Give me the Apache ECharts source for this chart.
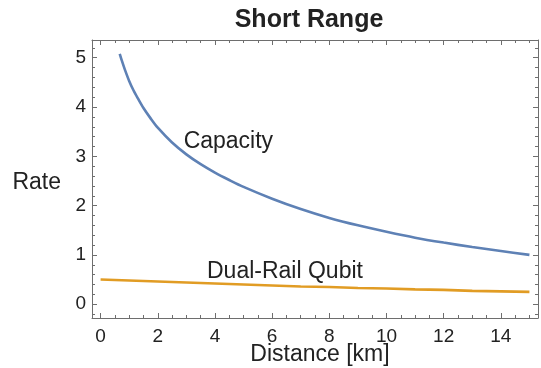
<!DOCTYPE html>
<html>
<head>
<meta charset="utf-8">
<script src="https://cdn.jsdelivr.net/npm/echarts@6/dist/echarts.min.js"></script>
<style>
html,body{margin:0;padding:0;background:#fff;}
#chart{width:541px;height:368px;}
</style>
</head>
<body>
<div id="chart"></div>
<script>
// ---- data ----
const capacityX = [0.67,0.75,0.85,1.0,1.15,1.3,1.5,1.75,2.0,2.5,3.0,3.5,4.0,4.5,5,6,7,8,9,10,11,12,13,14,15];
const capacityY = [5.08,4.93,4.76,4.53,4.34,4.18,3.98,3.77,3.58,3.28,3.04,2.84,2.67,2.52,2.38,2.14,1.93,1.75,1.60,1.47,1.35,1.25,1.16,1.08,1.00];
const dualRailX = [0,1,2,3,4,5,6,7,8,9,10,11,12,13,14,15];
const dualRailY = [0.50,0.48,0.46,0.44,0.42,0.40,0.38,0.36,0.35,0.33,0.32,0.30,0.29,0.27,0.26,0.25];

const xMajorTicks = [0,2,4,6,8,10,12,14];
const xMinorTicks = [0.5,1,1.5,2.5,3,3.5,4.5,5,5.5,6.5,7,7.5,8.5,9,9.5,10.5,11,11.5,12.5,13,13.5,14.5,15];
const yMajorTicks = [0,1,2,3,4,5];
const yMinorTicks = [-0.2,0.2,0.4,0.6,0.8,1.2,1.4,1.6,1.8,2.2,2.4,2.6,2.8,3.2,3.4,3.6,3.8,4.2,4.4,4.6,4.8,5.2];

const titleText = 'Short Range';
const xName = 'Distance [km]';
const yName = 'Rate';
const capacityLabel = {text: 'Capacity', at: [4.47, 3.30]};
const dualRailLabel = {text: 'Dual-Rail Qubit', at: [6.45, 0.67]};

// ---- styling ----
const FONT = '"Liberation Sans", Arial, sans-serif';
const frameColor = '#6e6e6e';
const textColor = '#222';
const blue = '#5e81b5';
const orange = '#e19c24';
const X_MIN = -0.3, X_MAX = 15.3, Y_MIN = -0.28, Y_MAX = 5.36;

function zip(a, b) { return a.map((v, i) => [v, b[i]]); }

function axisDef(position, min, max, ticks, len, showLine, extra) {
  return Object.assign({
    type: 'value', position: position, min: min, max: max,
    axisLine: {show: showLine, onZero: false, lineStyle: {color: frameColor, width: 1}},
    axisTick: {show: true, inside: true, length: len, customValues: ticks, lineStyle: {color: frameColor, width: 1}},
    axisLabel: {show: false},
    splitLine: {show: false}
  }, extra || {});
}

const labelStyle = {fontFamily: FONT, fontSize: 23, color: textColor};

const option = {
  backgroundColor: '#fff',
  animation: false,
  title: {
    text: titleText, left: 309, top: 8, textAlign: 'center', padding: 0,
    textStyle: {fontFamily: FONT, fontSize: 25, fontWeight: 'bold', color: textColor}
  },
  grid: {left: 92, right: 3, top: 40, bottom: 50, containLabel: false, outerBoundsMode: 'none'},
  xAxis: [
    axisDef('bottom', X_MIN, X_MAX, xMajorTicks, 5, true, {
      axisLabel: {show: true, customValues: xMajorTicks, margin: 9, fontFamily: FONT, fontSize: 19, color: textColor},
      name: xName, nameLocation: 'middle', nameGap: 25, nameMoveOverlap: false,
      nameTextStyle: {fontFamily: FONT, fontSize: 23, color: textColor, padding: [0, 0, 0, 10]}
    }),
    axisDef('bottom', X_MIN, X_MAX, xMinorTicks, 3, false),
    axisDef('top', X_MIN, X_MAX, xMajorTicks, 5, true),
    axisDef('top', X_MIN, X_MAX, xMinorTicks, 3, false)
  ],
  yAxis: [
    axisDef('left', Y_MIN, Y_MAX, yMajorTicks, 5, true, {
      axisLabel: {show: true, customValues: yMajorTicks, margin: 6, fontFamily: FONT, fontSize: 19, color: textColor},
      name: yName, nameLocation: 'middle', nameRotate: 0, nameGap: 31, nameMoveOverlap: false,
      nameTextStyle: {fontFamily: FONT, fontSize: 23, color: textColor, verticalAlign: 'top', lineHeight: 8}
    }),
    axisDef('left', Y_MIN, Y_MAX, yMinorTicks, 3, false),
    axisDef('right', Y_MIN, Y_MAX, yMajorTicks, 5, true),
    axisDef('right', Y_MIN, Y_MAX, yMinorTicks, 3, false)
  ],
  series: [
    {
      name: 'Capacity', type: 'line', xAxisIndex: 0, yAxisIndex: 0,
      data: zip(capacityX, capacityY), smooth: 0.3, showSymbol: false,
      lineStyle: {color: blue, width: 2.6}, itemStyle: {color: blue},
      markPoint: {
        symbol: 'circle', symbolSize: 0, silent: true,
        label: Object.assign({show: true, position: 'inside', formatter: capacityLabel.text}, labelStyle),
        data: [{coord: capacityLabel.at}]
      }
    },
    {
      name: 'Dual-Rail Qubit', type: 'line', xAxisIndex: 0, yAxisIndex: 0,
      data: zip(dualRailX, dualRailY), smooth: false, showSymbol: false,
      lineStyle: {color: orange, width: 2.6}, itemStyle: {color: orange},
      markPoint: {
        symbol: 'circle', symbolSize: 0, silent: true,
        label: Object.assign({show: true, position: 'inside', formatter: dualRailLabel.text}, labelStyle),
        data: [{coord: dualRailLabel.at}]
      }
    }
  ]
};

const chart = echarts.init(document.getElementById('chart'), null, {renderer: 'canvas'});
chart.setOption(option);
</script>
</body>
</html>
